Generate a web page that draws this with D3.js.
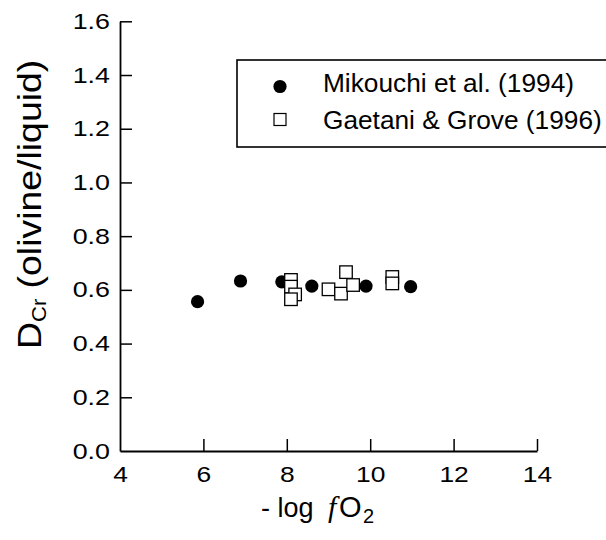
<!DOCTYPE html>
<html>
<head>
<meta charset="utf-8">
<script src="https://cdn.jsdelivr.net/npm/d3@7"></script>
<style>
  html, body { margin: 0; padding: 0; background: #fff; }
  svg { display: block; }
  text { font-family: "Liberation Sans", Arial, Helvetica, sans-serif; fill: #000; }
</style>
</head>
<body>
<svg id="chart" width="606" height="540"></svg>
<script>
// ---- data ----
const mikouchiX = [5.86, 6.89, 7.88, 8.60, 9.90, 10.97];
const mikouchiY = [0.556, 0.633, 0.630, 0.614, 0.614, 0.612];
const gaetaniX = [8.10, 8.10, 8.20, 8.10, 9.00, 9.30, 9.42, 9.59, 10.53, 10.53];
const gaetaniY = [0.637, 0.612, 0.583, 0.565, 0.602, 0.586, 0.666, 0.618, 0.648, 0.624];
const xTicks = [4, 6, 8, 10, 12, 14];
const yTicks = [0.0, 0.2, 0.4, 0.6, 0.8, 1.0, 1.2, 1.4, 1.6];
const seriesNames = ["Mikouchi et al. (1994)", "Gaetani & Grove (1996)"];

const svg = d3.select("#chart");
const x = d3.scaleLinear().domain([4, 14]).range([120, 537]);
const y = d3.scaleLinear().domain([0, 1.6]).range([451, 21.3]);

// axes
const xAxis = d3.axisBottom(x).tickValues(xTicks).tickFormat(d3.format("d"))
  .tickSizeInner(-12).tickSizeOuter(0).tickPadding(15);
const yAxis = d3.axisLeft(y).tickValues(yTicks).tickFormat(d3.format(".1f"))
  .tickSizeInner(-12).tickSizeOuter(0).tickPadding(9);

const gx = svg.append("g").attr("transform", `translate(0,${y(0)})`).call(xAxis);
const gy = svg.append("g").attr("transform", `translate(${x(4)},0)`).call(yAxis);
[gx, gy].forEach(g => {
  g.selectAll("path.domain").attr("stroke", "#000").attr("stroke-width", 1.8);
  g.selectAll(".tick line").attr("stroke", "#000").attr("stroke-width", 1.5);
  g.selectAll(".tick text").attr("font-family", "Liberation Sans, Arial, sans-serif")
    .attr("font-size", 22).attr("fill", "#000");
});
gx.selectAll(".tick text").attr("transform", "scale(1.2,1)");
gy.selectAll(".tick text").attr("x", 0).attr("transform", "translate(-10,0) scale(1.22,1)");
gx.selectAll(".tick").filter(d => d === 4).select("line").remove();
gy.selectAll(".tick").filter(d => d === 0).select("line").remove();

// data points
const mik = mikouchiX.map((v, i) => ({ x: v, y: mikouchiY[i] }));
const gae = gaetaniX.map((v, i) => ({ x: v, y: gaetaniY[i] }));
const sq = 12.5;

svg.append("g").selectAll("circle").data(mik).join("circle")
  .attr("cx", d => x(d.x)).attr("cy", d => y(d.y)).attr("r", 6.6).attr("fill", "#000");

svg.append("g").selectAll("rect").data(gae).join("rect")
  .attr("x", d => x(d.x) - sq / 2).attr("y", d => y(d.y) - sq / 2)
  .attr("width", sq).attr("height", sq)
  .attr("fill", "#fff").attr("stroke", "#000").attr("stroke-width", 1.3);

// legend
const lg = svg.append("g");
lg.append("rect").attr("x", 237).attr("y", 60).attr("width", 420).attr("height", 87)
  .attr("fill", "none").attr("stroke", "#000").attr("stroke-width", 1.6);
lg.append("circle").attr("cx", 280).attr("cy", 86.5).attr("r", 6.6).attr("fill", "#000");
lg.append("rect").attr("x", 280 - 6).attr("y", 119.5 - 6).attr("width", 12).attr("height", 12)
  .attr("fill", "#fff").attr("stroke", "#000").attr("stroke-width", 1.2);
lg.append("text").attr("transform", "translate(323,92) scale(1.01,1)").attr("font-size", 26).text(seriesNames[0]);
lg.append("text").attr("transform", "translate(323,129) scale(1.01,1)").attr("font-size", 26).text(seriesNames[1]);

// y axis title
const yt = svg.append("text").attr("transform", "translate(41,349) rotate(-90) scale(1.1,1)")
  .attr("font-size", 34);
yt.append("tspan").text("D");
yt.append("tspan").attr("font-size", 20).attr("dy", 5).text("Cr");
yt.append("tspan").attr("dy", -5).text(" (olivine/liquid)");

// x axis title
const xt = svg.append("text").attr("y", 517).attr("font-size", 27);
xt.append("tspan").attr("x", 261).text("- log");
xt.append("tspan").attr("x", 328).attr("font-family", "Liberation Serif, Times New Roman, serif")
  .attr("font-style", "italic").attr("font-size", 30).text("f");
xt.append("tspan").attr("x", 339).attr("font-size", 29).text("O");
xt.append("tspan").attr("x", 363).attr("font-size", 20).attr("dy", 6).text("2");
</script>
</body>
</html>
